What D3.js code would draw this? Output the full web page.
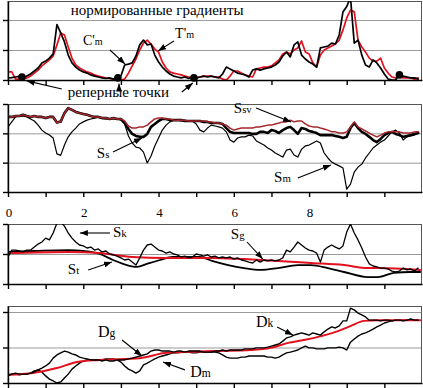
<!DOCTYPE html>
<html><head><meta charset="utf-8">
<script src="https://cdn.jsdelivr.net/npm/d3@7"></script>
<style>body{margin:0;background:#fff}svg{display:block}</style>
</head><body><svg id="c" width="423" height="388"></svg>
<script>
// distance along profile (shared sampling)
const dist = [0,0.1,0.2,0.3,0.4,0.5,0.6,0.7,0.8,0.9,1,1.1,1.2,1.3,1.4,1.5,1.6,1.7,1.8,1.9,2,2.1,2.2,2.3,2.4,2.5,2.6,2.7,2.8,2.9,3,3.1,3.2,3.3,3.4,3.5,3.6,3.7,3.8,3.9,4,4.1,4.2,4.3,4.4,4.5,4.6,4.7,4.8,4.9,5,5.1,5.2,5.3,5.4,5.5,5.6,5.7,5.8,5.9,6,6.1,6.2,6.3,6.4,6.5,6.6,6.7,6.8,6.9,7,7.1,7.2,7.3,7.4,7.5,7.6,7.7,7.8,7.9,8,8.1,8.2,8.3,8.4,8.5,8.6,8.7,8.8,8.9,9,9.1,9.2,9.3,9.4,9.5,9.6,9.7,9.8,9.9,10,10.1,10.2,10.3,10.4,10.5,10.6,10.7,10.8,10.9];

// panel 1: normalized gradients
const cmGrad = [0.07,0.08,0.1,0.12,0.1,0.13,0.2,0.3,0.4,0.57,
0.63,0.73,0.87,1.85,1.57,1.27,0.83,0.57,0.43,0.33,
0.27,0.23,0.17,0.13,0.1,0.07,0.05,0.07,0.03,0.07,
0.13,0.5,0.53,0.57,0.8,1.17,1.33,1.17,1.2,0.83,
0.6,0.43,0.3,0.2,0.13,0.1,0.07,0.1,0.05,0.1,
0.07,0.1,0.13,0.1,0.13,0.1,0.07,0.2,0.43,0.37,
0.3,0.23,0.2,0.17,0.1,0.33,0.37,0.33,0.37,0.4,
0.43,0.5,0.6,0.8,0.93,0.77,1.17,1.27,0.83,0.7,
0.6,0.53,0.43,1.07,1.1,1.13,1.23,1.2,1.5,2.27,
2.45,2.75,1.23,1.33,0.83,0.5,0.43,0.67,0.57,0.4,
0.2,0.03,0,0,0.2,0.13,0.1,0.07,0.07,0.03];
const tmGrad = [0.27,0.27,0.03,0.03,0.03,0.07,0.13,0.23,0.33,0.47,
0.57,0.67,0.8,1.17,1.57,1.5,1.1,0.73,0.5,0.4,
0.33,0.27,0.23,0.17,0.13,0.1,0.07,0.05,0.03,0,
0,0.03,0.23,0.47,0.7,1.0,1.23,1.33,1.2,1.03,
0.93,0.6,0.4,0.27,0.23,0.2,0.17,0.13,0.1,0.1,
0.07,0.1,0.13,0.13,0.13,0.1,0.1,0.03,0,0.13,
0.3,0.3,0.23,0.17,0.13,0.1,0.37,0.4,0.43,0.43,
0.47,0.57,0.67,0.87,0.93,0.87,1.0,1.07,1.3,0.93,
0.87,0.57,0.43,0.83,1.0,1.07,1.13,1.2,1.33,1.67,
2.07,2.33,2.27,1.33,1.1,0.93,0.73,0.63,0.63,0.73,
0.4,0.23,0.1,0.07,0.1,0.07,0.07,0.07,0.03,0.07];
const refX = [0.37,2.92,4.94,10.4];
const refY = [0.1,0.07,0.07,0.17];

// panel 2
const ssv = [2.56,2.56,2.59,2.59,2.63,2.59,2.56,2.59,2.56,2.56,
2.52,2.56,2.56,2.37,2.4,2.69,2.86,2.8,2.73,2.69,
2.66,2.63,2.59,2.56,2.56,2.52,2.52,2.49,2.52,2.49,
2.49,2.42,2.25,2.18,2.18,2.22,2.22,2.28,2.39,2.49,
2.52,2.52,2.49,2.49,2.45,2.45,2.45,2.45,2.42,2.42,
2.42,2.42,2.42,2.39,2.39,2.35,2.35,2.32,2.28,2.18,
2.11,2.15,2.18,2.18,2.18,2.18,2.22,2.22,2.25,2.28,
2.28,2.32,2.35,2.39,2.39,2.45,2.39,2.42,2.42,2.32,
2.25,2.22,2.22,2.18,2.15,2.11,2.05,2.05,2.01,2.01,
2.05,2.22,2.39,2.22,2.15,2.08,2.01,1.94,1.88,1.94,
2.01,2.05,2.05,2.05,2.05,2.01,2.01,2.01,2.05,2.05];
const ss = [2.56,2.56,2.59,2.59,2.63,2.59,2.56,2.59,2.56,2.56,
2.52,2.56,2.56,2.37,2.4,2.69,2.86,2.8,2.73,2.69,
2.66,2.63,2.59,2.56,2.56,2.52,2.52,2.49,2.52,2.49,
2.49,2.35,2.15,1.98,1.91,1.88,1.88,1.98,2.22,2.32,
2.42,2.49,2.49,2.45,2.45,2.45,2.45,2.42,2.42,2.42,
2.42,2.42,2.39,2.39,2.35,2.35,2.35,2.32,2.18,2.05,
2.01,2.01,2.01,2.01,2.01,1.98,1.98,2.05,2.05,2.01,
2.11,2.08,2.01,2.11,2.18,2.22,2.11,1.98,2.18,2.15,
2.08,2.05,2.01,1.94,1.94,1.94,1.94,1.91,1.88,1.84,
1.88,2.18,2.35,2.18,2.05,1.98,1.88,1.77,1.7,1.81,
1.94,2.01,2.05,1.98,1.94,1.88,1.91,1.94,1.98,2.01];
const sm = [2.22,2.39,2.56,2.59,2.59,2.56,2.49,2.42,2.28,2.11,
2.01,1.94,1.84,1.3,1.25,1.6,1.88,2.05,2.18,2.32,
2.39,2.45,2.49,2.52,2.56,2.52,2.49,2.49,2.49,2.49,
2.45,2.32,1.91,1.67,1.53,1.5,1.36,0.99,1.23,1.57,
1.84,2.11,2.28,2.39,2.45,2.45,2.42,2.45,2.42,2.42,
2.32,2.11,2.05,2.18,2.28,2.25,2.22,2.18,2.05,1.77,
1.7,1.84,1.88,1.88,1.94,1.91,1.74,1.67,1.6,1.5,
1.43,1.33,1.26,1.19,1.43,1.46,1.26,1.19,1.46,1.57,
1.6,1.67,1.74,1.67,1.33,1.16,1.02,0.95,0.89,0.82,
0.1,0.27,0.68,0.85,0.95,1.16,1.33,1.5,1.6,1.7,
1.77,1.91,2.05,2.11,2.01,1.77,1.88,1.91,1.94,2.01];

// panel 3
const sk = [0.9,1.13,1.13,1.1,1.07,1.13,1.13,1.23,1.33,1.4,
1.53,1.47,1.7,2.03,2.07,1.93,1.7,1.53,1.4,1.3,
1.27,1.2,1.23,1.13,1.17,1.07,1.1,1.0,0.97,0.93,
0.87,0.8,0.83,0.73,0.63,0.87,1.13,1.3,1.33,1.23,
1.13,1.1,1.03,1.07,1.0,0.97,0.9,0.93,0.87,0.9,
1.0,0.97,0.93,0.97,0.9,0.93,0.87,0.9,0.87,0.9,
0.83,0.87,0.8,0.77,0.73,0.7,0.8,0.73,0.8,0.77,
0.8,0.77,0.8,0.87,1.13,1.07,1.23,1.4,1.3,1.2,
1.13,1.1,1.03,0.73,1.13,1.23,1.3,1.23,1.17,1.27,
1.73,2.0,1.7,1.47,1.2,0.9,0.67,0.6,0.57,0.53,
0.53,0.5,0.43,0.4,0.43,0.53,0.47,0.5,0.43,0.53];
const sgX = [0,1.6,2.44,3.3,4.2,5.4,6.27,7.17,8.05,8.93,9.56,9.83,10.95];
const sgY = [1.03,1.07,1.03,0.9,0.87,0.87,0.83,0.77,0.7,0.63,0.53,0.53,0.47];
const stX = [0,0.7,1.6,2.0,2.44,2.79,3.16,3.43,3.69,4.04,4.38,4.76,5.1,5.42,5.85,6.27,6.72,7.17,7.7,8.05,8.5,8.93,9.56,9.83,10.25,10.7,10.95];
const stY = [1.07,1.1,1.13,1.1,1.0,0.8,0.63,0.57,0.67,0.8,0.9,0.9,0.9,0.77,0.63,0.53,0.47,0.53,0.63,0.63,0.53,0.4,0.23,0.23,0.37,0.4,0.4];

// panel 4
const dk = [0.2,0.25,0.28,0.25,0.25,0.25,0.28,0.31,0.37,0.42,
0.48,0.56,0.7,0.79,0.85,0.9,0.87,0.82,0.79,0.73,
0.7,0.68,0.65,0.65,0.65,0.62,0.65,0.62,0.62,0.65,
0.65,0.65,0.68,0.7,0.73,0.76,0.79,0.82,0.9,0.93,
0.93,0.9,0.9,0.9,0.87,0.9,0.9,0.87,0.9,0.9,
0.9,0.9,0.87,0.87,0.87,0.9,0.9,0.93,0.9,0.93,
0.93,0.93,0.93,0.96,0.96,0.96,0.99,0.99,0.99,1.01,
1.04,1.07,1.1,1.18,1.27,1.3,1.35,1.38,1.41,1.38,
1.35,1.41,1.38,1.35,1.44,1.52,1.58,1.55,1.61,1.75,
1.75,2.11,2.06,1.97,1.92,1.86,1.77,1.77,1.77,1.75,
1.77,1.77,1.75,1.77,1.77,1.75,1.77,1.8,1.77,1.77];
const dm = [0.23,0.25,0.25,0.23,0.25,0.25,0.28,0.34,0.37,0.31,
0.2,0.11,0.06,0.0,0.03,0.14,0.25,0.39,0.48,0.56,
0.62,0.65,0.65,0.65,0.65,0.65,0.68,0.68,0.68,0.65,
0.59,0.48,0.39,0.34,0.28,0.34,0.51,0.56,0.62,0.68,
0.73,0.76,0.79,0.82,0.85,0.85,0.87,0.87,0.87,0.85,
0.85,0.87,0.87,0.87,0.87,0.87,0.85,0.79,0.73,0.7,
0.7,0.7,0.73,0.73,0.76,0.76,0.76,0.76,0.76,0.73,
0.73,0.7,0.73,0.79,0.85,0.87,0.9,0.93,0.99,1.04,
0.99,0.99,0.96,0.96,0.96,0.99,0.99,0.99,1.01,0.99,
0.93,1.15,1.24,1.32,1.38,1.41,1.46,1.52,1.58,1.63,
1.69,1.72,1.75,1.77,1.77,1.77,1.77,1.8,1.77,1.77];
const dgX = [0,0.66,1.3,1.83,2.44,3.5,4.22,5.42,6.46,6.99,7.44,7.86,8.32,8.77,9.11,9.46,9.83,10.95];
const dgY = [0.23,0.28,0.42,0.59,0.65,0.7,0.85,0.9,0.93,0.99,1.13,1.21,1.32,1.46,1.61,1.75,1.77,1.77];

const xTicks = [0,1,2,3,4,5,6,7,8,9,10];
const xTickLabels = [0,2,4,6,8];

// ---------- drawing ----------
const svg = d3.select("#c");
svg.append("rect").attr("width",423).attr("height",388).attr("fill","#fff");
const SERIF = "'Liberation Serif','Times New Roman',serif";
const defs = svg.append("defs");
defs.append("marker").attr("id","ah").attr("viewBox","0 0 8 6").attr("refX",8).attr("refY",3)
  .attr("markerWidth",8).attr("markerHeight",6).attr("markerUnits","userSpaceOnUse").attr("orient","auto")
  .append("path").attr("d","M0,0L8,3L0,6Z").attr("fill","#000");

const x = d3.scaleLinear().domain([0,11]).range([8,422]);
const panels = [
  {top:1, bottom:80, max:2.633, grid:[1,2], ticks:[0,1,2]},
  {top:104, bottom:192, max:3, grid:[1,2], ticks:[0,1,2,3]},
  {top:224, bottom:284, max:2, grid:[1], ticks:[0,1,2]},
  {top:306, bottom:383, max:2.169, grid:[1,2], ticks:[0,1,2]}
];
panels.forEach((p,i)=>{
  p.y = d3.scaleLinear().domain([0,p.max]).range([p.bottom,p.top]);
  p.g = svg.append("g");
  defs.append("clipPath").attr("id","cp"+i).append("rect")
    .attr("x",8).attr("y",p.top).attr("width",413.5).attr("height",p.bottom-p.top);
  p.g.selectAll("line.grid").data(p.grid).enter().append("line")
    .attr("x1",8).attr("x2",421.5).attr("y1",d=>p.y(d)+0.5).attr("y2",d=>p.y(d)+0.5)
    .attr("stroke","#9a9a9a").attr("stroke-width",1);
  p.g.append("rect").attr("x",8).attr("y",p.top+0.5).attr("width",413.5).attr("height",p.bottom-p.top)
    .attr("fill","none").attr("stroke","#555").attr("stroke-width",1);
  p.lines = p.g.append("g").attr("clip-path","url(#cp"+i+")");
});

function drawLine(p, xs, ys, color, w, curve){
  const pts = xs.map((d,i)=>[d,ys[i]]);
  p.lines.append("path").datum(pts)
    .attr("d", d3.line().x(d=>x(d[0])).y(d=>p.y(d[1])).curve(curve||d3.curveLinear))
    .attr("fill","none").attr("stroke",color).attr("stroke-width",w)
    .attr("stroke-linejoin","round").attr("stroke-linecap","round");
}

// panel 1
drawLine(panels[0], dist, tmGrad, "#e3101e", 1.7);
drawLine(panels[0], dist, cmGrad, "#000", 1.7);
panels[0].g.selectAll("circle").data(refX).enter().append("circle")
  .attr("cx",d=>x(d)).attr("cy",(d,i)=>panels[0].y(refY[i])).attr("r",3.8).attr("fill","#000");
// panel 2
drawLine(panels[1], dist, sm, "#000", 1.2);
drawLine(panels[1], dist, ss, "#000", 2.6);
drawLine(panels[1], dist, ssv, "#a8262a", 1.5);
// panel 3
drawLine(panels[2], stX, stY, "#000", 1.8, d3.curveMonotoneX);
drawLine(panels[2], sgX, sgY, "#e3101e", 2, d3.curveMonotoneX);
drawLine(panels[2], dist, sk, "#000", 1.3);
// panel 4
drawLine(panels[3], dist, dm, "#000", 1.4);
drawLine(panels[3], dgX, dgY, "#e3101e", 2, d3.curveMonotoneX);
drawLine(panels[3], dist, dk, "#000", 1.4);

// axes
panels.forEach(p=>{
  const ga = p.g.append("g").attr("transform","translate(8,0)")
    .call(d3.axisLeft(p.y).tickValues(p.ticks).tickSize(5).tickSizeOuter(0).tickFormat(""));
  const gb = p.g.append("g").attr("transform","translate(0,"+p.bottom+")")
    .call(d3.axisBottom(x).tickValues(xTicks).tickSize(5).tickSizeOuter(0).tickFormat(""));
  [ga,gb].forEach(a=>{a.selectAll("path,line").attr("stroke","#000").attr("stroke-width",1.4);});
});

// x labels above panel 3
svg.selectAll("text.xl").data(xTickLabels).enter().append("text")
  .attr("x",d=>x(d)+1).attr("y",217).attr("text-anchor","middle")
  .attr("font-family",SERIF).attr("font-size",13).text(d=>d);

// annotations (positions in data units)
function label(p, ux, uy, main, sub, size){
  const t = p.g.append("text").attr("x",x(ux)).attr("y",p.y(uy))
    .attr("font-family",SERIF).attr("font-size",size||15).attr("fill","#000");
  t.append("tspan").text(main);
  if (sub) t.append("tspan").attr("font-size",(size||15)*0.72).text(sub);
}
function arrow(p, x1, y1, x2, y2){
  p.g.append("line").attr("x1",x(x1)).attr("y1",p.y(y1)).attr("x2",x(x2)).attr("y2",p.y(y2))
    .attr("stroke","#000").attr("stroke-width",1.1).attr("marker-end","url(#ah)");
}
const P = panels;
P[0].g.append("text").attr("x",x(1.67)).attr("y",P[0].y(2.17)).attr("font-family",SERIF)
  .attr("font-size",15).text("нормированные градиенты");
label(P[0], 1.99, 1.17, "C'", "m", 14);
arrow(P[0], 2.71, 1.0, 3.11, 0.53);
label(P[0], 4.44, 1.4, "T'", "m", 14);
arrow(P[0], 4.41, 1.3, 3.99, 0.97);
P[0].g.append("text").attr("x",x(1.59)).attr("y",P[0].y(-0.57)).attr("font-family",SERIF)
  .attr("font-size",15).text("реперные точки");
arrow(P[0], 1.43, -0.3, 0.5, -0.03);
arrow(P[0], 2.95, -0.3, 2.95, -0.12);
arrow(P[0], 4.62, -0.4, 4.91, -0.1);

label(P[1], 6.0, 2.69, "S", "sv");
arrow(P[1], 6.59, 2.86, 7.52, 2.39);
label(P[1], 2.36, 1.16, "S", "s");
arrow(P[1], 2.79, 1.36, 3.56, 1.84);
label(P[1], 7.07, 0.34, "S", "m");
arrow(P[1], 7.7, 0.48, 8.58, 0.92);

label(P[2], 2.79, 1.57, "S", "k");
arrow(P[2], 2.71, 1.7, 1.91, 1.7);
label(P[2], 1.59, 0.33, "S", "t");
arrow(P[2], 2.13, 0.47, 2.76, 0.73);
label(P[2], 5.92, 1.5, "S", "g");
arrow(P[2], 6.35, 1.4, 6.77, 0.83);

label(P[3], 2.39, 1.3, "D", "g", 16);
arrow(P[3], 3.03, 1.21, 3.56, 0.76);
label(P[3], 4.84, 0.17, "D", "m", 16);
arrow(P[3], 4.7, 0.37, 4.12, 0.59);
label(P[3], 6.59, 1.58, "D", "k", 16);
arrow(P[3], 7.15, 1.58, 7.57, 1.35);
</script></body></html>
